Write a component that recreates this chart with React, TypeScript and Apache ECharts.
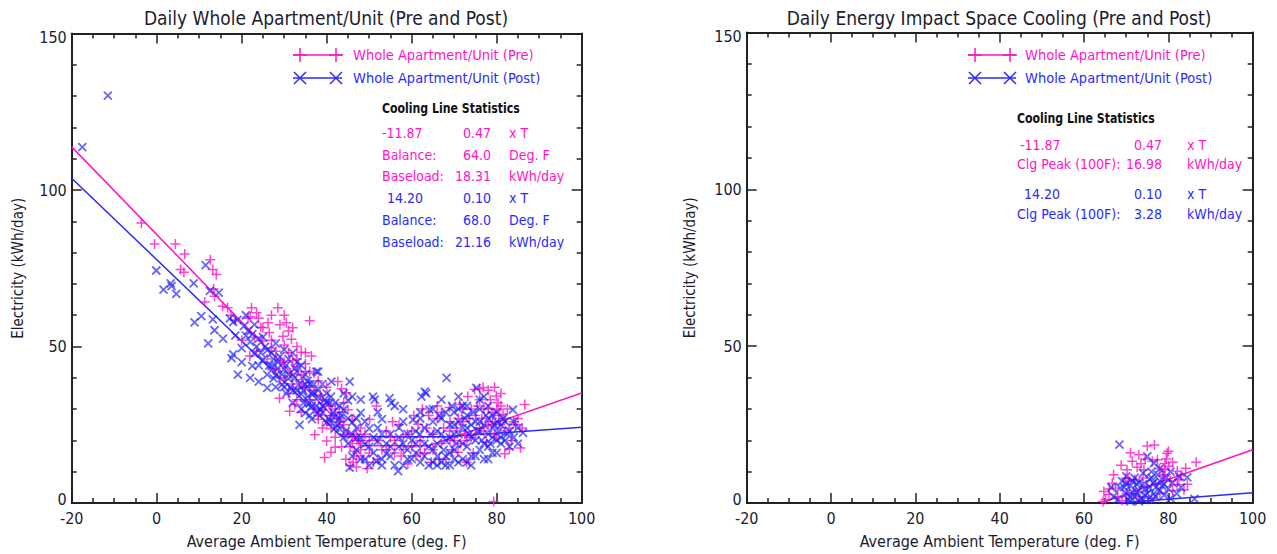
import React, { useEffect, useRef } from 'react';
import * as echarts from 'echarts';

// ---------- data ----------
const xTicks = { min: -20, max: 100, interval: 20 };
const yTicks = { min: 0, max: 150, interval: 50 };

const preWhole: number[][] = [
  [-3.6, 89.5], [-0.5, 82.8], [4.4, 82.8], [6.6, 79.6], [5.6, 74.6], [6.4, 73.7], [12.6, 77.7], [13.2, 74.6],
  [14.0, 73.0], [11.3, 64.2], [13.4, 68.4], [13.6, 66.1], [15.5, 62.9], [16.7, 62.4], [17.5, 60], [18.5, 58.5],
  [22.3, 62.4], [23.5, 60.8], [24.0, 59], [21.5, 59], [24.5, 56.2], [20.0, 52],
  [28.5, 62.4], [30.5, 57.6], [26.2, 57.6], [22.0, 59.5], [26.5, 54.5], [29.7, 53.3], [31.7, 52.3], [34.0, 48.2],
  [36.4, 47.0], [21.9, 47.0], [27.0, 49.5], [25.0, 51.8], [28.0, 48.5], [30.0, 50.5], [32.0, 45.5], [26.0, 46.0],
  [23.5, 48.5], [36.0, 58.2], [28.9, 33.5], [31.3, 29.3], [30.0, 39.5], [31.5, 41.5], [33.0, 43.5], [34.5, 39.5],
  [35.0, 44.5], [29.0, 45.5], [27.5, 42.5], [33.5, 36.5], [36.0, 37.5], [37.0, 41.5], [38.5, 34.5], [35.0, 32.5],
  [32.5, 31.5], [37.2, 21.8], [39.5, 14.5], [41.0, 16.2], [40.0, 19.8], [42.0, 17.8], [38.0, 26.8], [39.0, 29.8],
  [40.5, 31.8], [41.0, 23.8], [43.0, 25.8], [42.6, 38.8], [44.6, 35.2], [43.5, 36.5], [45.0, 29.8], [46.0, 26.8],
  [44.0, 21.8], [46.2, 13], [47.0, 15], [45.5, 18], [47.5, 20], [48.0, 24], [50.1, 26.7], [51.7, 31], [49.0, 22],
  [52.0, 20], [53.0, 17], [54.0, 23], [55.0, 21], [56.0, 16], [57.0, 25], [58.0, 21], [59.1, 12.5], [60.0, 18],
  [61.5, 25.2], [62.0, 20], [63.0, 16], [64.6, 13], [65.0, 22], [66.0, 27], [67.0, 19], [68.9, 23], [68.9, 30.5],
  [69.5, 17], [70.9, 16.2], [71.3, 31.5], [72.0, 26], [72.9, 13], [73.2, 34], [74.0, 21], [74.8, 36.3], [75.0, 28],
  [76.0, 24], [76.8, 36.9], [77.6, 19.4], [78.0, 30], [79.0, 26], [79.9, 34.2], [80.0, 30], [80.3, 32], [80.5, 28],
  [81.5, 28.4], [81.9, 15.7], [82.0, 23], [83.0, 17.3], [84.0, 26], [84.4, 25], [85.6, 17.6], [86.6, 31.5], [79.3, 0.5],
  [44.5, 14], [45.5, 12], [47, 11.5], [48.5, 14], [46.5, 16.5], [43.5, 18], [50, 16], [51, 13], [49.5, 11],
  [55.5, 26], [57.5, 15], [59, 22], [60.5, 28], [61, 15], [63.5, 24], [64, 28], [66.5, 14], [67.5, 24], [69, 26],
  [70, 20], [70.5, 24], [71.5, 19], [72.5, 22], [73.5, 27], [74.5, 16], [75.5, 31], [76.5, 27], [77, 23], [78.5, 33],
  [79.5, 22], [80.8, 25], [81, 35], [82.5, 30], [83.5, 20], [85, 27], [86, 24], [78, 36], [66, 31], [62.5, 30],
  [30, 45], [32, 38], [33, 33], [34, 41], [35, 37], [36, 33], [37, 30], [38, 28], [39, 24], [40, 26], [41, 28],
  [42, 21], [43, 29], [44, 25], [31, 35], [29, 40], [28, 43], [34, 29], [36, 42], [38, 39], [40, 37], [42, 30],
  [45, 22], [46, 19], [47, 22], [48, 17], [35, 48], [33, 50], [31, 55], [27, 52], [25, 56], [23, 53],
  [31, 48], [33, 46], [35, 42], [37, 36], [39, 33], [41, 31], [43, 27], [44, 32], [46, 21], [48, 19], [50, 20],
  [52, 14], [54, 17], [56, 20], [58, 17], [60, 23], [62, 16], [65, 17], [67, 29], [68, 14], [69, 20], [71, 27],
  [72, 30], [73, 20], [74, 30], [75, 22], [76, 33], [77, 30], [78, 25], [79, 29], [80, 21], [81, 31], [82, 27],
  [83, 24], [79.5, 37], [76, 36.5], [30, 60], [27, 60], [32, 56], [29, 57],
];

const postWhole: number[][] = [
  [-17.5, 113.7], [-11.5, 130.2],
  [-0.1, 74.3], [1.6, 68.2], [3.3, 70.2], [3.5, 69.3], [4.6, 66.8], [8.7, 70.2], [11.5, 76], [12.5, 67.8],
  [14.6, 67.2], [8.9, 57.7], [10.5, 59.7], [13.2, 58.7], [13.6, 55.2], [15.6, 52.5], [12.1, 51], [18.0, 57.8],
  [19.0, 58.5], [17.2, 59], [18.5, 53.5], [17.6, 46.3], [19.1, 41], [18.0, 47.5], [20.0, 49.5], [21.0, 53.5],
  [20.5, 56.5], [22.0, 51.5], [23.0, 47.8], [24.0, 52.5], [22.5, 43.8], [25.0, 45.8], [26.0, 48.8], [27.0, 43.8],
  [28.0, 40.8], [29.0, 46.8], [30.0, 42.8], [24.0, 38.8], [26.0, 36.8], [27.5, 39.8], [29.5, 37.8], [31.0, 39.8],
  [32.0, 35.8], [33.0, 41.8], [34.0, 34.8], [35.0, 37.8], [36.0, 31.8], [37.6, 42], [33.6, 25], [35.0, 28.8],
  [36.5, 26.8], [38.0, 33.8], [39.0, 28.8], [40.0, 25.8], [41.1, 38.8], [40.5, 31.8], [42.0, 27.8], [43.0, 23.8],
  [44.0, 29.8], [45.4, 38.8], [45.0, 32.8], [46.0, 25.8], [47.0, 20.8], [48.0, 28.8], [49.0, 18.8], [45.4, 11.3],
  [46.0, 15], [48.0, 14], [50.9, 34], [51.3, 33], [51.7, 13.3], [50.0, 23.8], [52.0, 19.8], [53.0, 26.8], [54.0, 15.8],
  [54.8, 33.5], [55.2, 32], [56.0, 31], [56.8, 10.2], [55.0, 22], [57.0, 18], [58.0, 26], [59.0, 14], [60.3, 26.6],
  [60.0, 20], [61.0, 16], [62.3, 34], [61.9, 21.9], [63.1, 35.6], [63.4, 35], [63.0, 24], [64.2, 29.8], [64.0, 18],
  [65.0, 13], [66.0, 23], [67.0, 33], [67.0, 27], [68.2, 40], [68.0, 20], [69.0, 25], [69.0, 16], [70.0, 29],
  [70.0, 22], [71.0, 26], [71.0, 13], [72.0, 19], [72.0, 31], [73.0, 24], [73.0, 28], [74.0, 21], [74.0, 15],
  [75.2, 36.8], [75.0, 26], [76.0, 23], [76.0, 30], [77.0, 34], [77.0, 19], [78.0, 27], [78.0, 14], [79.0, 24],
  [79.0, 21], [80.0, 29], [80.0, 16], [81.0, 25], [82.0, 20], [83.8, 29.8], [83.0, 23], [84.0, 26], [86.2, 22.4], [85.0, 19],
  [21.5, 55], [22.5, 54], [23.5, 50], [24.5, 48], [25.5, 50], [26.5, 44], [27.5, 46], [28.5, 43], [29.5, 41], [30.5, 44],
  [31.5, 37], [32.5, 40], [33.5, 38], [34.5, 36], [35.5, 34], [36.5, 35], [37.5, 31], [38.5, 30], [39.5, 33], [40.5, 27],
  [41.5, 29], [42.5, 25], [43.5, 28], [44.5, 23], [30.5, 35], [32, 32], [34, 30], [36, 28], [38, 36], [40, 35], [42, 32],
  [28, 37], [26, 41], [24, 44], [31, 46], [33, 45], [35, 41], [37, 38], [39, 38], [41, 34], [43, 31], [45, 27], [47, 24],
  [49, 26], [51, 21], [53, 22], [55, 18], [57, 21], [59, 17], [61, 23], [63, 19], [47, 17], [50, 12], [53, 12], [58, 12],
  [62, 13], [66, 15], [68, 12], [70, 17], [72, 14], [74, 12], [76, 17], [78, 18], [80, 20], [82, 26], [66, 19], [67, 22],
  [68, 29], [69, 21], [70, 25], [71, 30], [71, 22], [72, 24], [72.5, 27], [73, 18], [73.5, 22], [74, 25], [74.5, 29],
  [75, 20], [75.5, 23], [76, 26], [76.5, 20], [77, 25], [77.5, 28], [78, 22], [78.5, 19], [79, 28], [79.5, 25],
  [80.5, 23], [81, 19], [81.5, 27], [82.5, 22], [65, 26], [64.5, 22], [66.5, 28], [67.5, 17], [69.5, 31], [70.5, 19],
  [27, 48], [28.5, 45], [30, 37], [31, 41], [32.5, 43], [33, 36], [34.5, 32], [35.5, 39], [36.5, 31], [37, 35], [38, 29],
  [39, 31], [40, 32], [41, 26], [42, 24], [43, 27], [44, 21], [45, 19], [46, 22], [47, 27], [48, 21], [49, 14], [50, 18],
  [51, 16], [52, 24], [53, 14], [54, 19], [55, 15], [56, 12], [57, 24], [58, 19], [59, 22], [60, 14], [61, 19], [62, 27],
  [63, 15], [64, 12], [65, 17], [66, 12], [67, 13], [68, 15], [69, 12], [70, 14], [73, 13], [75, 15], [77, 14], [79, 16],
  [81, 21], [83, 18], [84, 21], [85, 24], [71, 34], [73, 31], [76, 33], [78, 31], [80, 26], [65, 30], [62, 29], [58, 30],
  [52, 29], [48, 33], [44, 35], [46, 34], [38, 42], [36, 38], [34, 44], [32, 48], [30, 49], [28, 51], [25, 53], [23, 57],
  [21, 60], [20, 45], [22, 40],
];

const preCooling: number[][] = [
  [75, 18.2], [76.7, 18.5], [73, 15.4], [71.4, 13.3], [68.8, 12], [70.2, 10.6], [72.6, 11.4], [74.2, 10.6],
  [76.2, 13.3], [77.4, 13.8], [79.7, 15.9], [79.5, 14], [79.2, 12.6], [80.1, 11.7], [82.1, 10.1], [84.1, 11.1],
  [86.6, 13], [83, 8.7], [82.1, 5.8], [83.7, 4.2], [79.2, 10.6], [78.7, 8.6], [66.7, 6.3], [64.7, 3.7], [65.9, 2.7],
  [65.1, 1.1], [67.5, 4.8], [72, 7.5], [70.5, 7], [74, 8], [69.9, 7.9], [75, 5], [77, 6], [80.5, 7], [81, 4], [78, 3],
  [68, 2], [70, 3], [73, 2], [76, 1.5], [66, 4.5], [67, 9], [71, 16], [80, 16.5], [81, 13], [74.5, 14], [77.9, 11],
  [79, 9], [82.5, 7.5], [84.5, 6], [73.5, 12.5], [69, 0.8], [64.5, 0.5],
];

const postCooling: number[][] = [
  [68.4, 18.6], [75, 14.9], [76.6, 12.7], [84.5, 8.2], [86.2, 1.3], [68.6, 4.8], [70, 3], [71, 5.5], [72, 2], [73, 4],
  [74, 6], [75, 3], [76, 1], [77, 5], [78, 7], [79, 2.5], [80, 4.5], [81, 6.5], [82, 3], [70.5, 1], [71.5, 3.5],
  [72.5, 6], [73.5, 1.5], [74.5, 4.5], [75.5, 7.5], [76.5, 3], [77.5, 9], [78.5, 5.5], [79.5, 8], [80.5, 1.5], [69, 7],
  [70, 8.5], [72, 8], [67, 2], [66.5, 5], [68, 1], [74, 9.5], [76, 10], [78, 11], [80.5, 10], [83, 5], [82.5, 8.5],
  [73, 0.5], [77, 2], [69.5, 5], [71, 0.5], [70, 6], [71.5, 7], [73, 6.5], [74.5, 2.5], [75.5, 5], [76.5, 6.5],
  [78, 4], [79, 6], [71, 2], [72.5, 3.5], [74, 1], [76, 8],
];

const preWholeFit: number[][] = [[-20, 113.8], [48.2, 18.31], [64, 18.31], [100, 35.13]];
const postWholeFit: number[][] = [[-20, 103.8], [43.5, 21.16], [68, 21.16], [100, 24.2]];
const preCoolFit: number[][] = [[64, 0], [100, 16.98]];
const postCoolFit: number[][] = [[68, 0], [100, 3.28]];

const titles = ['Daily Whole Apartment/Unit (Pre and Post)', 'Daily Energy Impact Space Cooling (Pre and Post)'];
const legendNames = ['Whole Apartment/Unit (Pre)', 'Whole Apartment/Unit (Post)'];
const xName = 'Average Ambient Temperature (deg. F)';
const yName = 'Electricity (kWh/day)';
const statsTitle = 'Cooling Line Statistics';
const statsLeftPre = [['-11.87', '0.47', 'x T'], ['Balance:', '64.0', 'Deg. F'], ['Baseload:', '18.31', 'kWh/day']];
const statsLeftPost = [['14.20', '0.10', 'x T'], ['Balance:', '68.0', 'Deg. F'], ['Baseload:', '21.16', 'kWh/day']];
const statsRightPre = [['-11.87', '0.47', 'x T'], ['Clg Peak (100F):', '16.98', 'kWh/day']];
const statsRightPost = [['14.20', '0.10', 'x T'], ['Clg Peak (100F):', '3.28', 'kWh/day']];

// ---------- styles ----------
const FONT = '"Liberation Sans Narrow","Arial Narrow","Nimbus Sans Narrow","DejaVu Sans Condensed",sans-serif';
const PINK = '#ff14c8';
const BLUE = '#2a2aff';
const AXIS = '#222222';
const TEXT = '#1c1c30';

const PLUS = 'path://M5,0L5,10M0,5L10,5';
const CROSS = 'path://M0,0L10,10M10,0L0,10';

function axisCommon(show: boolean) {
  return {
    axisLine: { show: true, onZero: false, lineStyle: { color: AXIS, width: 2 } },
    axisTick: { show: true, inside: true, length: 10, lineStyle: { color: AXIS, width: 1.5 } },
    minorTick: { show: true, length: 5, lineStyle: { color: AXIS, width: 1.5 } },
    splitLine: { show: false },
    minorSplitLine: { show: false },
    axisLabel: { show },
  };
}

function xAxes(gridIndex: number) {
  const base = axisCommon(true);
  return [
    {
      type: 'value', gridIndex, position: 'bottom', ...xTicks,
      ...base,
      minorTick: { ...base.minorTick, splitNumber: 4 },
      axisLabel: { show: true, margin: 7, fontSize: 16, color: TEXT, fontFamily: FONT },
      name: xName, nameLocation: 'middle', nameGap: 30,
      nameTextStyle: { fontSize: 16, color: TEXT, fontFamily: FONT },
    },
    {
      type: 'value', gridIndex, position: 'top', ...xTicks,
      ...axisCommon(false),
      minorTick: { ...base.minorTick, splitNumber: 4 },
    },
  ];
}

function yAxes(gridIndex: number, nameGap: number) {
  const base = axisCommon(true);
  return [
    {
      type: 'value', gridIndex, position: 'left', ...yTicks,
      ...base,
      minorTick: { ...base.minorTick, splitNumber: 5 },
      axisLabel: {
        show: true, margin: 5, fontSize: 16, color: TEXT, fontFamily: FONT,
        formatter: (v: number) => (v === 0 ? '{b|0}' : v === 150 ? '{t|150}' : String(v)),
        rich: {
          b: { fontSize: 16, color: TEXT, fontFamily: FONT, padding: [0, 0, 8, 0] },
          t: { fontSize: 16, color: TEXT, fontFamily: FONT, padding: [8, 0, 0, 0] },
        },
      },
      name: yName, nameLocation: 'middle', nameGap,
      nameTextStyle: { fontSize: 15, color: TEXT, fontFamily: FONT },
    },
    {
      type: 'value', gridIndex, position: 'right', ...yTicks,
      ...axisCommon(false),
      minorTick: { ...base.minorTick, splitNumber: 5 },
    },
  ];
}

function plusMark(cx: number, cy: number, s: number, color: string) {
  return [
    { type: 'line', shape: { x1: cx - s, y1: cy, x2: cx + s, y2: cy }, style: { stroke: color, lineWidth: 1.5 } },
    { type: 'line', shape: { x1: cx, y1: cy - s, x2: cx, y2: cy + s }, style: { stroke: color, lineWidth: 1.5 } },
  ];
}
function crossMark(cx: number, cy: number, s: number, color: string) {
  return [
    { type: 'line', shape: { x1: cx - s, y1: cy - s, x2: cx + s, y2: cy + s }, style: { stroke: color, lineWidth: 1.5 } },
    { type: 'line', shape: { x1: cx - s, y1: cy + s, x2: cx + s, y2: cy - s }, style: { stroke: color, lineWidth: 1.5 } },
  ];
}

function txt(text: string, x: number, y: number, fill: string, fontSize: number, align = 'left', weight = 'normal', scaleX = 1) {
  return {
    type: 'text',
    x, y, scaleX,
    style: {
      text, x: 0, y: 0, fill, fontSize, fontFamily: FONT, fontWeight: weight,
      textAlign: align, textVerticalAlign: 'middle', align, verticalAlign: 'middle',
    },
  };
}

function legend(x0: number, m1: number, m2: number, tx: number) {
  const els: any[] = [];
  els.push({ type: 'line', shape: { x1: x0, y1: 55, x2: m2 + 6, y2: 55 }, style: { stroke: PINK, lineWidth: 1.5 } });
  els.push(...plusMark(m1, 55, 7, PINK), ...plusMark(m2, 55, 7, PINK));
  els.push(txt(legendNames[0], tx, 55, PINK, 14.5));
  els.push({ type: 'line', shape: { x1: x0, y1: 78, x2: m2 + 6, y2: 78 }, style: { stroke: BLUE, lineWidth: 1.5 } });
  els.push(...crossMark(m1, 78, 6, BLUE), ...crossMark(m2, 78, 6, BLUE));
  els.push(txt(legendNames[1], tx, 78, BLUE, 14.5));
  return els;
}

function statsRows(rows: string[][], ys: number[], firstX: number, xs: number[], color: string) {
  const els: any[] = [];
  rows.forEach((r, i) => {
    els.push(txt(r[0], i === 0 ? firstX : xs[0], ys[i], color, 14));
    els.push(txt(r[1], xs[1], ys[i], color, 14, 'right'));
    els.push(txt(r[2], xs[2], ys[i], color, 14));
  });
  return els;
}

export default function App() {
  const ref = useRef<HTMLDivElement>(null);
  useEffect(() => {
    if (!ref.current) return;
    const chart = echarts.init(ref.current, undefined, { renderer: 'svg' });

    const scatterStyle = (color: string, w: number) => ({ color: 'rgba(0,0,0,0)', borderColor: color, borderWidth: w });

    const graphic: any[] = [
      txt(titles[0], 326, 18, TEXT, 19, 'center'),
      txt(titles[1], 999, 18, TEXT, 19, 'center'),
      ...legend(293, 300, 336, 353),
      ...legend(968, 975, 1010, 1025),
      txt(statsTitle, 382, 108, '#111', 14, 'left', 'bold', 0.87),
      ...statsRows(statsLeftPre, [133, 155, 176], 382, [382, 491, 509], PINK),
      ...statsRows(statsLeftPost, [198, 220, 242], 387, [382, 491, 509], BLUE),
      txt(statsTitle, 1017, 118, '#111', 14, 'left', 'bold', 0.87),
      ...statsRows(statsRightPre, [145, 164], 1020, [1017, 1162, 1187], PINK),
      ...statsRows(statsRightPost, [194, 214], 1024, [1017, 1162, 1187], BLUE),
    ];

    chart.setOption({
      animation: false,
      backgroundColor: '#ffffff',
      grid: [
        { left: 71.7, top: 33.6, width: 510, height: 476.1, containLabel: false },
        { left: 746.7, top: 32.5, width: 506, height: 472.5, containLabel: false },
      ],
      xAxis: [...xAxes(0), ...xAxes(1)],
      yAxis: [...yAxes(0, 46), ...yAxes(1, 49)],
      series: [
        { type: 'line', xAxisIndex: 0, yAxisIndex: 0, data: preWholeFit, symbol: 'none', lineStyle: { color: PINK, width: 1.5 }, silent: true, z: 1 },
        { type: 'line', xAxisIndex: 0, yAxisIndex: 0, data: postWholeFit, symbol: 'none', lineStyle: { color: BLUE, width: 1.5 }, silent: true, z: 1 },
        { type: 'scatter', xAxisIndex: 0, yAxisIndex: 0, data: preWhole, symbol: PLUS, symbolSize: 10, itemStyle: scatterStyle(PINK, 1.5), silent: true, z: 2 },
        { type: 'scatter', xAxisIndex: 0, yAxisIndex: 0, data: postWhole, symbol: CROSS, symbolSize: 8, itemStyle: scatterStyle('rgba(30,30,255,0.85)', 1.8), silent: true, z: 3 },
        { type: 'line', xAxisIndex: 2, yAxisIndex: 2, data: preCoolFit, symbol: 'none', lineStyle: { color: PINK, width: 1.5 }, silent: true, z: 1 },
        { type: 'line', xAxisIndex: 2, yAxisIndex: 2, data: postCoolFit, symbol: 'none', lineStyle: { color: BLUE, width: 1.5 }, silent: true, z: 1 },
        { type: 'scatter', xAxisIndex: 2, yAxisIndex: 2, data: preCooling, symbol: PLUS, symbolSize: 10, itemStyle: scatterStyle(PINK, 1.5), silent: true, z: 2 },
        { type: 'scatter', xAxisIndex: 2, yAxisIndex: 2, data: postCooling, symbol: CROSS, symbolSize: 8, itemStyle: scatterStyle('rgba(30,30,255,0.85)', 1.8), silent: true, z: 3 },
      ],
      graphic,
    });
    return () => chart.dispose();
  }, []);

  return <div ref={ref} style={{ position: 'absolute', left: 0, top: 0, width: 1277, height: 554 }} />;
}
